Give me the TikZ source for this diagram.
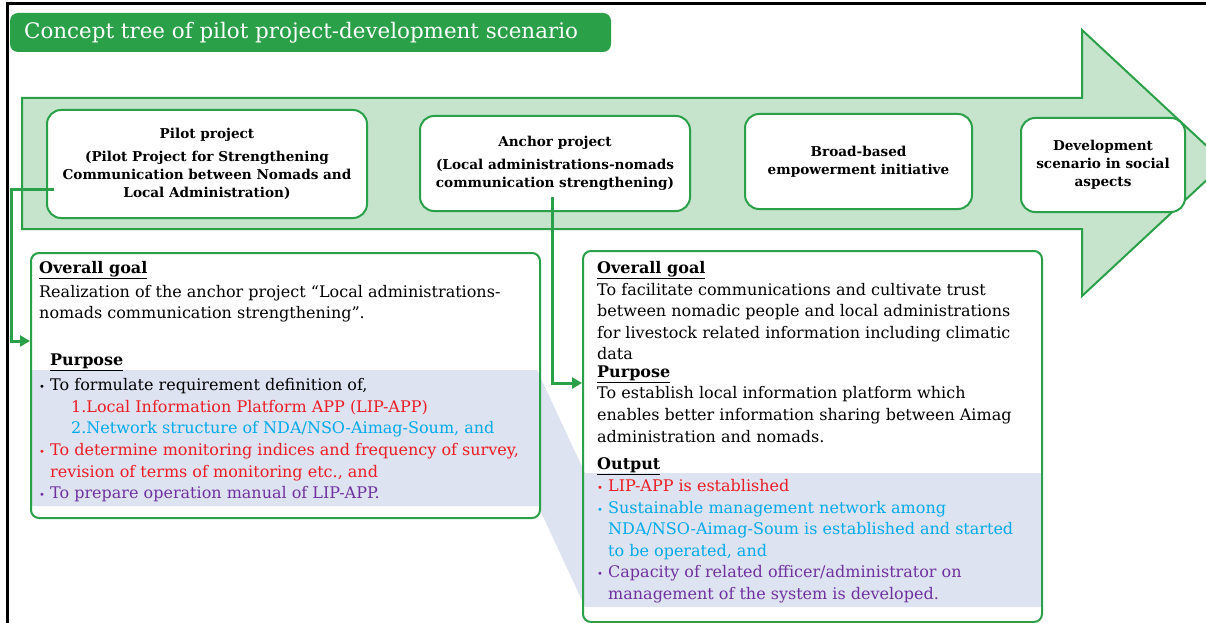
\documentclass[tikz,border=0pt]{standalone}
\usepackage{fontspec}
\setmainfont{DejaVu Serif}
\usetikzlibrary{arrows.meta,calc}
\definecolor{gborder}{RGB}{42,160,72}
\definecolor{gfill}{RGB}{198,228,204}
\definecolor{cshade}{RGB}{221,227,240}
\definecolor{tred}{RGB}{235,28,36}
\definecolor{tcyan}{RGB}{0,170,235}
\definecolor{tpurple}{RGB}{112,48,160}
\newcommand{\bl}{\makebox[11pt][l]{\fontsize{10}{10}\selectfont •}}
\newcommand{\hd}[1]{\textbf{\underline{#1}}}
\begin{document}
\begin{tikzpicture}[x=1pt,y=-1pt,
  topbox/.style={draw=gborder,line width=2pt,fill=white,rounded corners=14pt,align=center,
     font=\fontsize{13.6}{18}\selectfont\bfseries},
  cbox/.style={draw=gborder,line width=2pt,rounded corners=8pt},
  txt/.style={anchor=base west,inner sep=0pt,font=\fontsize{16}{18}\selectfont},
  conn/.style={draw=gborder,line width=3pt,-{Triangle[length=10pt,width=11pt]}}]
\path[use as bounding box] (0,0) rectangle (1206,623);
\clip (0,0) rectangle (1206,623);
% frame
\draw[line width=2.5pt,black] (7.5,640) -- (7.5,3.3) -- (1220,3.3);
% title
\node[fill=gborder,rounded corners=8pt,minimum width=601pt,minimum height=39pt] (title) at (310.5,32.5) {};
\node[anchor=west,inner sep=0pt,text=white,font=\fontsize{21.4}{24}\selectfont] (titletext) at (24,33)
  {Concept tree of pilot project-development scenario};
% big arrow
\draw[draw=gborder,fill=gfill,line width=2pt] (22,98) -- (1082,98) -- (1082,30) -- (1225,163)
  -- (1082,296) -- (1082,229) -- (22,229) -- cycle;
% top boxes
\node[topbox,minimum width=320pt,minimum height=108pt] (pilot) at (207,164)
  {Pilot project\\[5pt](Pilot Project for Strengthening\\Communication between Nomads and\\Local Administration)};
\node[topbox,minimum width=270pt,minimum height=95pt] (anchor) at (555,163.5)
  {Anchor project\\[5pt](Local administrations-nomads\\communication strengthening)};
\node[topbox,minimum width=227pt,minimum height=95pt] (broad) at (858.5,161.5)
  {Broad-based\\empowerment initiative};
\node[topbox,minimum width=164pt,minimum height=94pt] (devel) at (1103,165)
  {Development\\scenario in social\\aspects};
% shading
\fill[cshade] (31,370) -- (537,370) -- (585,473) -- (1041,473) -- (1041,607) -- (585,607)
  -- (540,510) -- (540,506) -- (31,506) -- cycle;
% content boxes
\node[cbox,minimum width=509pt,minimum height=265pt] (lbox) at (285.5,385.5) {};
\node[cbox,minimum width=459pt,minimum height=371pt] (rbox) at (812.5,436.5) {};
% left text
\node[txt] (l1) at (39,273) {\hd{Overall goal}};
\node[txt] (l2) at (39,297) {Realization of the anchor project “Local administrations-};
\node[txt] (l3) at (39,318) {nomads communication strengthening”.};
\node[txt] (l4) at (50,365) {\hd{Purpose}};
\node[txt] (l5) at (39,390) {\bl To formulate requirement definition of,};
\node[txt,text=tred] (l6) at (71,412) {1.Local Information Platform APP (LIP-APP)};
\node[txt,text=tcyan] (l7) at (71,433) {2.Network structure of NDA/NSO-Aimag-Soum, and};
\node[txt,text=tred] (l8) at (39,455) {\bl To determine monitoring indices and frequency of survey,};
\node[txt,text=tred] (l9) at (50,477) {revision of terms of monitoring etc., and};
\node[txt,text=tpurple] (l10) at (39,498) {\bl To prepare operation manual of LIP-APP.};
% right text
\node[txt] (r1) at (597,273) {\hd{Overall goal}};
\node[txt] (r2) at (597,295) {To facilitate communications and cultivate trust};
\node[txt] (r3) at (597,316) {between nomadic people and local administrations};
\node[txt] (r4) at (597,338) {for livestock related information including climatic};
\node[txt] (r5) at (597,359) {data};
\node[txt] (r6) at (597,377) {\hd{Purpose}};
\node[txt] (r7) at (597,398) {To establish local information platform which};
\node[txt] (r8) at (597,420) {enables better information sharing between Aimag};
\node[txt] (r9) at (597,442) {administration and nomads.};
\node[txt] (r10) at (597,469) {\hd{Output}};
\node[txt,text=tred] (r11) at (597,491) {\bl LIP-APP is established};
\node[txt,text=tcyan] (r12) at (597,513) {\bl Sustainable management network among};
\node[txt,text=tcyan] (r13) at (608,534) {NDA/NSO-Aimag-Soum is established and started};
\node[txt,text=tcyan] (r14) at (608,556) {to be operated, and};
\node[txt,text=tpurple] (r15) at (597,577) {\bl Capacity of related officer/administrator on};
\node[txt,text=tpurple] (r16) at (608,599) {management of the system is developed.};
% connectors
\draw[conn] ($(pilot.west)+(8,25)$) -- ++(-43,0) |- ($(lbox.north west)+(0,89)$);
\draw[conn] ($(anchor.south)+(-3,-15)$) |- ($(rbox.north west)+(0,133)$);
\end{tikzpicture}
\end{document}
